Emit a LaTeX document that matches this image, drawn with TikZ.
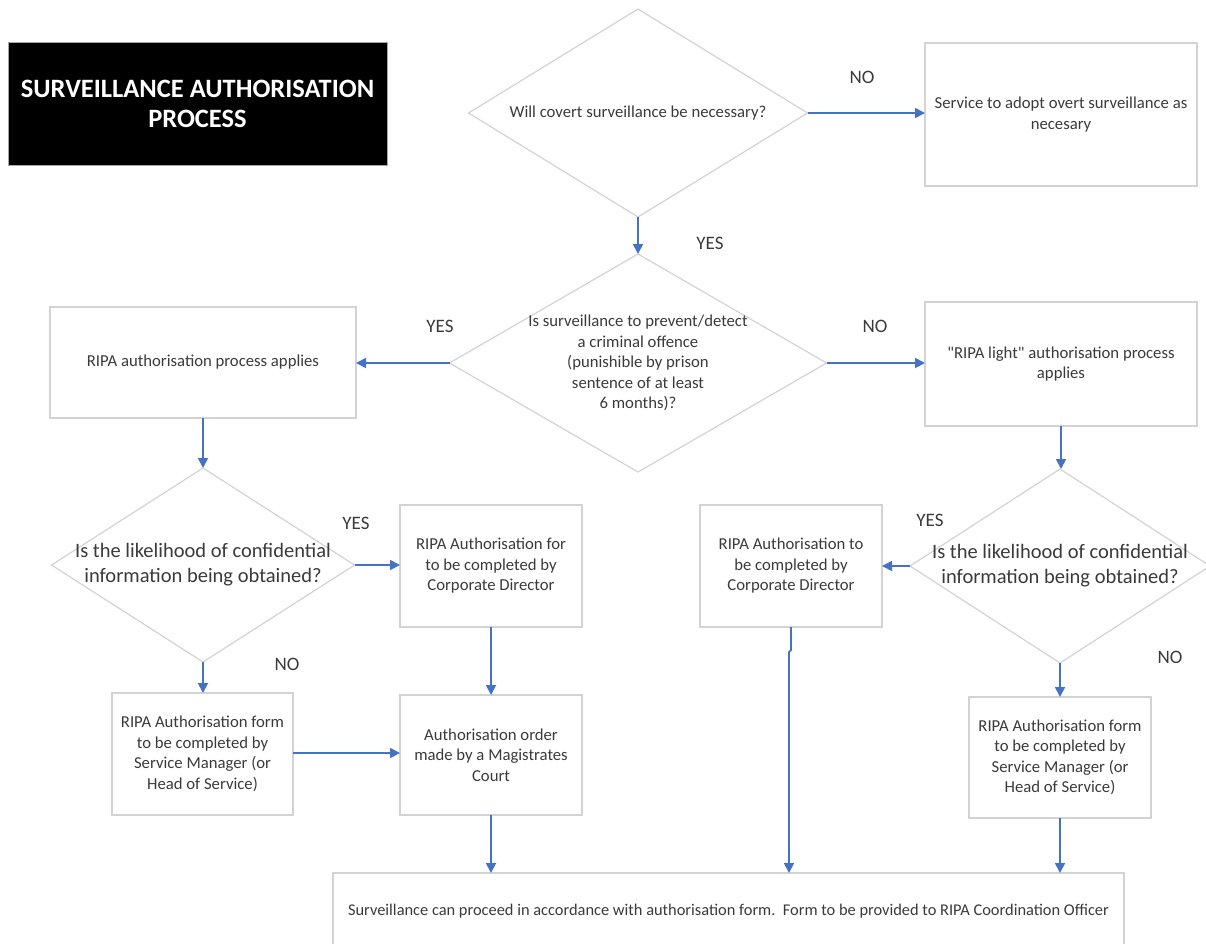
\documentclass[tikz,border=0pt]{standalone}
\usepackage{fontspec}
\setmainfont{Carlito}
\newfontfamily\plainfont{Carlito}
\usetikzlibrary{shapes.geometric,arrows.meta}
\definecolor{lineblue}{HTML}{4472C4}
\definecolor{boxgray}{HTML}{D3D3D3}
\definecolor{txt}{HTML}{3A3A3A}
\begin{document}
\begin{tikzpicture}[x=1pt,y=-1pt,
  box/.style={draw=boxgray,line width=1.3pt,rectangle,inner sep=0pt,outer sep=0pt,align=center,text=txt,font=\fontsize{16.7}{20.5}\selectfont},
  dia/.style={draw=boxgray,line width=1.2pt,diamond,inner sep=0pt,outer sep=0pt},
  dtxt/.style={align=center,text=txt,inner sep=0pt},
  arr/.style={draw=lineblue,line width=1.8pt,-{Triangle[length=10pt,width=10pt]}},
  lbl/.style={text=txt,font=\fontsize{19}{23}\selectfont,inner sep=0pt},
]
\useasboundingbox (0,0) rectangle (1206,943);

% title
\node[fill=black,draw=gray!70,line width=1pt,minimum width=379,minimum height=123,inner sep=0pt,text=white,align=center,font=\bfseries\fontsize{26.5}{30}\selectfont] (title) at (197.5,103.5) {SURVEILLANCE AUTHORISATION\\PROCESS};

% diamonds
\node[dia,minimum width=339,minimum height=208] (d1) at (638,113) {};
\node[dtxt,font=\fontsize{16.7}{20.5}\selectfont] (d1t) at (d1.center) {Will covert surveillance be necessary?};

\node[dia,minimum width=377,minimum height=218] (d2) at (638,363) {};
\node[dtxt,font=\fontsize{16.7}{20.5}\selectfont] (d2t) at (d2.center) {Is surveillance to prevent/detect\\a criminal offence\\(punishible by prison\\sentence of at least\\6 months)?};

\node[dia,minimum width=303,minimum height=194] (d3) at (203,565) {};
\node[dtxt,font=\fontsize{20.5}{25}\selectfont] (d3t) at (d3.center) {Is the likelihood of confidential\\information being obtained?};

\node[dia,minimum width=300,minimum height=194] (d4) at (1060,566) {};
\node[dtxt,font=\fontsize{20.5}{25}\selectfont] (d4t) at (d4.center) {Is the likelihood of confidential\\information being obtained?};

% boxes
\node[box,minimum width=272,minimum height=143] (overt) at (1061,114.5) {Service to adopt overt surveillance as\\necesary};
\node[box,minimum width=306,minimum height=111] (ripa) at (203,362.5) {RIPA authorisation process applies};
\node[box,minimum width=272,minimum height=124] (light) at (1061,364) {{\plainfont"}RIPA light{\plainfont"} authorisation process\\applies};
\node[box,minimum width=182,minimum height=122] (cdl) at (491,566) {RIPA Authorisation for\\to be completed by\\Corporate Director};
\node[box,minimum width=181,minimum height=122] (sml) at (202.5,754) {RIPA Authorisation form\\to be completed by\\Service Manager (or\\Head of Service)};
\node[box,minimum width=182,minimum height=120] (mag) at (491,755) {Authorisation order\\made by a Magistrates\\Court};
\node[box,minimum width=182,minimum height=122] (cdr) at (791,566) {RIPA Authorisation to\\be completed by\\Corporate Director};
\node[box,minimum width=182,minimum height=121] (smr) at (1060,757.5) {RIPA Authorisation form\\to be completed by\\Service Manager (or\\Head of Service)};
\node[box,minimum width=791,minimum height=77,font=\fontsize{16.4}{20}\selectfont] (final) at (728.5,911.5) {Surveillance can proceed in accordance with authorisation form.\ \ Form to be provided to RIPA Coordination Officer};

% connectors
\draw[arr] (d1.east) -- (d1.east -| overt.west);
\draw[arr] (d1.south) -- (d2.north);
\draw[arr] (d2.west) -- (d2.west -| ripa.east);
\draw[arr] (d2.east) -- (d2.east -| light.west);
\draw[arr] (ripa.south) -- (ripa.south |- d3.north);
\draw[arr] (d3.east) -- (d3.east -| cdl.west);
\draw[arr] (d3.south) -- (d3.south |- sml.north);
\draw[arr] (cdl.south) -- (mag.north);
\draw[arr] ([yshift=1pt]sml.east) -- ([yshift=1pt]sml.east -| mag.west);
\draw[arr] (mag.south) -- (mag.south |- final.north);
\draw[arr] (light.south) -- (light.south |- d4.north);
\draw[arr] (d4.west) -- (d4.west -| cdr.east);
\draw[arr] (d4.south) -- (d4.south |- smr.north);
\coordinate (jog) at (789,652);
\draw[arr] (cdr.south) -- ++(0,23) -- (jog) -- (jog |- final.north);
\draw[arr] (smr.south) -- (smr.south |- final.north);

% labels
\node[lbl] (l1) at (862,77) {NO};
\node[lbl] (l2) at (710,243) {YES};
\node[lbl] (l3) at (440,326) {YES};
\node[lbl] (l4) at (875,326) {NO};
\node[lbl] (l5) at (356,523) {YES};
\node[lbl] (l6) at (287,664) {NO};
\node[lbl] (l7) at (930,520) {YES};
\node[lbl] (l8) at (1170,657) {NO};
\end{tikzpicture}
\end{document}
